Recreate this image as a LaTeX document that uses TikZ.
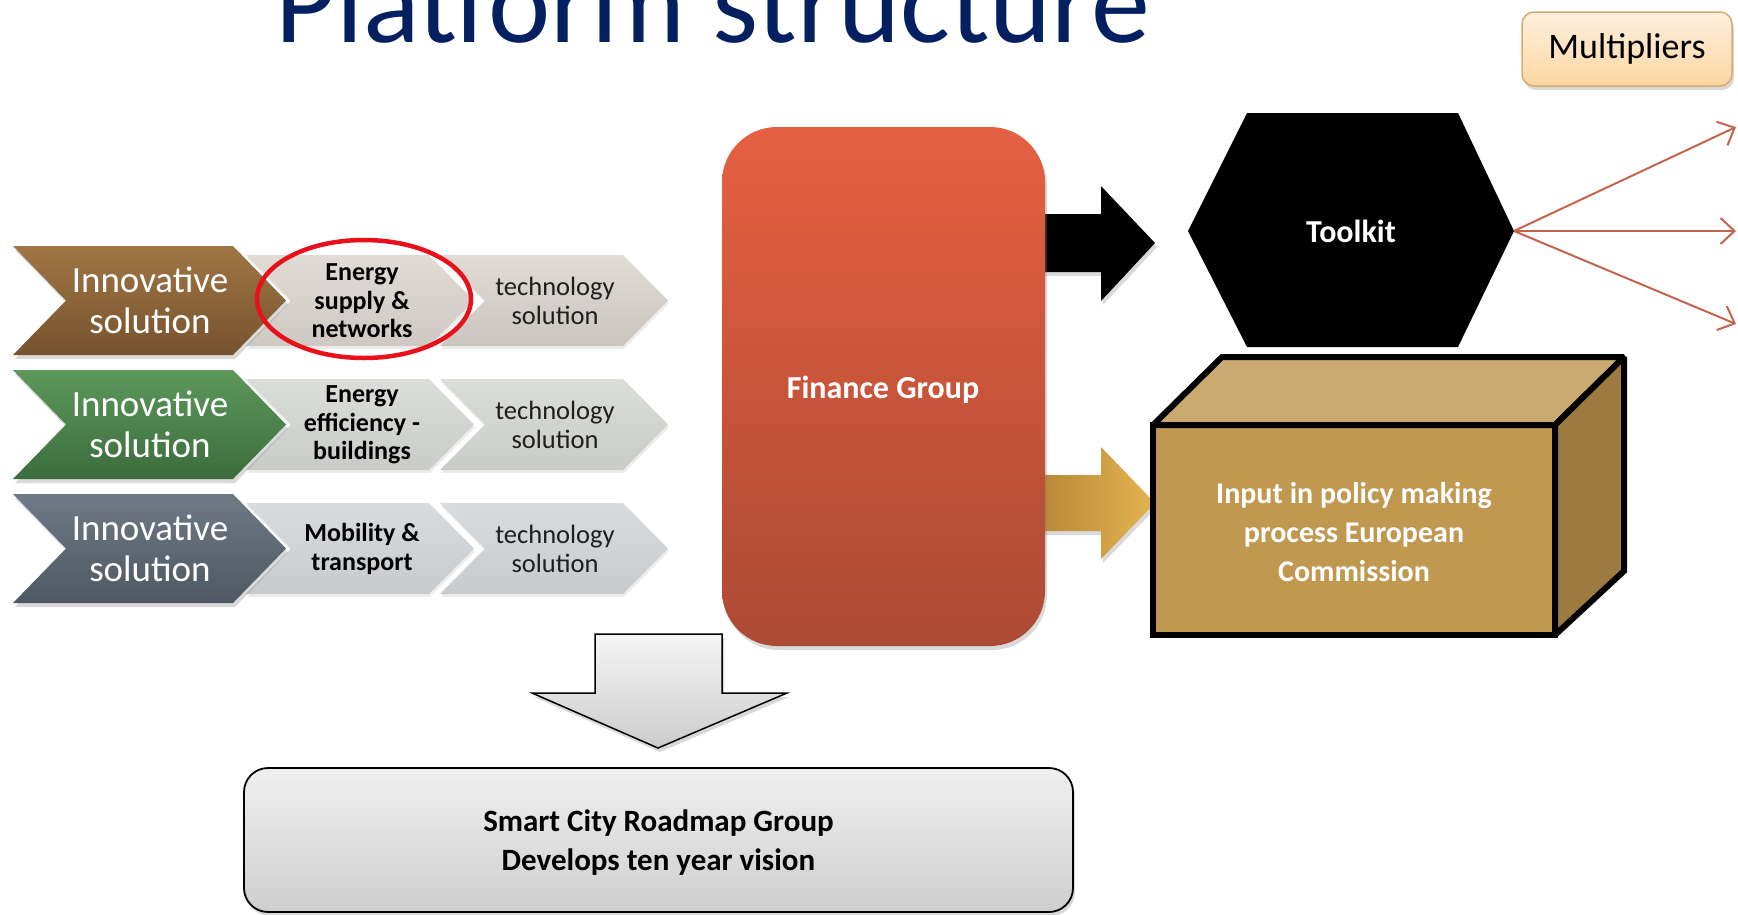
\documentclass[tikz,border=0pt]{standalone}
\usepackage{fontspec}
\setmainfont{Carlito}
\usetikzlibrary{arrows.meta,shadows,shapes.geometric}
\definecolor{titleblue}{RGB}{4,32,96}
\definecolor{brownT}{RGB}{160,118,68}
\definecolor{brownB}{RGB}{118,82,46}
\definecolor{greenT}{RGB}{92,152,90}
\definecolor{greenB}{RGB}{60,108,62}
\definecolor{slateT}{RGB}{112,122,134}
\definecolor{slateB}{RGB}{78,88,98}
\definecolor{lightA}{RGB}{224,219,212}
\definecolor{lightB}{RGB}{218,221,216}
\definecolor{lightC}{RGB}{216,220,222}
\definecolor{finT}{RGB}{229,96,66}
\definecolor{finB}{RGB}{172,74,52}
\definecolor{goldFront}{RGB}{192,152,80}
\definecolor{goldTop}{RGB}{203,170,114}
\definecolor{goldSide}{RGB}{156,122,64}
\definecolor{goldArrL}{RGB}{184,136,56}
\definecolor{goldArrR}{RGB}{228,180,80}
\definecolor{multT}{RGB}{255,240,222}
\definecolor{multB}{RGB}{252,214,162}
\definecolor{multD}{RGB}{214,172,108}
\definecolor{multline}{RGB}{196,100,76}
\definecolor{techtext}{RGB}{30,30,30}
\newcommand{\chevpath}[5]{(#1,#3) -- (#2,#3) -- ({#2+#5},{(#3+#4)/2}) -- (#2,#4) -- (#1,#4) -- ({#1+#5},{(#3+#4)/2}) -- cycle}
\begin{document}
\begin{tikzpicture}[x=1pt,y=-1pt,
  shad/.style={drop shadow={opacity=0.3,shadow xshift=2pt,shadow yshift=-4pt}},
  lshad/.style={drop shadow={opacity=0.15,shadow xshift=1pt,shadow yshift=-3pt}},
  innov/.style={text=white,align=center,font=\fontsize{37}{41}\selectfont},
  midtxt/.style={text=black,align=center,font=\bfseries\fontsize{26}{28.5}\selectfont},
  techtxt/.style={text=techtext,align=center,font=\fontsize{26.5}{29}\selectfont},
  multarrow/.style={draw=multline,line width=2pt,-{Straight Barb[length=14pt,width=26pt]}},
  cube/.style={draw=black,line width=6pt,line join=miter,miter limit=2},
]
\useasboundingbox (0,0) rectangle (1738,914);
\clip (0,0) rectangle (1738,914);

% title
\node[anchor=base west,inner sep=0pt,text=titleblue,font=\fontsize{118}{122}\selectfont] (title) at (275,42) {Platform structure};

% Multipliers
\node[rounded corners=12pt,draw=multD,line width=1.5pt,top color=multT,bottom color=multB,
  minimum width=210pt,minimum height=74pt,shad,font=\fontsize{36}{40}\selectfont] (mult) at (1627,49) {Multipliers};

% chevrons row 1
\path[lshad,top color=lightA,bottom color=lightA!90!black] \chevpath{440}{623}{255}{346}{45};
\path[lshad,top color=lightA,bottom color=lightA!92!black] \chevpath{246}{429}{255}{346}{45};
\path[shad,top color=brownT,bottom color=brownB] \chevpath{13}{233}{246}{355}{53};
% row 2
\path[lshad,top color=lightB,bottom color=lightB!92!black] \chevpath{440}{623}{379}{470}{45};
\path[lshad,top color=lightB,bottom color=lightB!92!black] \chevpath{246}{429}{379}{470}{45};
\path[shad,top color=greenT,bottom color=greenB] \chevpath{13}{233}{370}{479}{53};
% row 3
\path[lshad,top color=lightC,bottom color=lightC!92!black] \chevpath{440}{623}{503}{594}{45};
\path[lshad,top color=lightC,bottom color=lightC!92!black] \chevpath{246}{429}{503}{594}{45};
\path[shad,top color=slateT,bottom color=slateB] \chevpath{13}{233}{494}{603}{53};

\node[innov] (inno1) at (150,300) {Innovative\\solution};
\node[innov] (inno2) at (150,424) {Innovative\\solution};
\node[innov] (inno3) at (150,548) {Innovative\\solution};
\node[midtxt] (energy) at (362,301) {Energy\\supply \&\\networks};
\node[midtxt] (eff) at (362,425) {Energy\\efficiency -\\buildings};
\node[midtxt] (mob) at (362,549) {Mobility \&\\transport};
\node[techtxt] (tech1) at (555,301) {technology\\solution};
\node[techtxt] (tech2) at (555,425) {technology\\solution};
\node[techtxt] (tech3) at (555,549) {technology\\solution};

% red highlight ellipse
\node[ellipse,draw={rgb,255:red,232;green,16;blue,26},line width=4.5pt,minimum width=214pt,minimum height=118pt] (hl) at (364,299) {};

% gray down arrow
\path[shad,draw=black,line width=1.5pt,top color=gray!8,bottom color=gray!40]
  (595,634) -- (722,634) -- (722,693) -- (787,693) -- (658,748) -- (532,693) -- (595,693) -- cycle;

% block arrows from Finance
\path[shad,fill=black] (1040,214) -- (1101,214) -- (1101,186) -- (1155,243) -- (1101,301) -- (1101,272) -- (1040,272) -- cycle;
\path[shad,left color=goldArrL,right color=goldArrR] (1040,475) -- (1101,475) -- (1101,447) -- (1155,503) -- (1101,559) -- (1101,531) -- (1040,531) -- cycle;

% Finance group
\node[rounded corners=55pt,top color=finT,bottom color=finB,minimum width=323pt,minimum height=519pt,shad] (fin) at (883.5,386.5) {};
\node[text=white,font=\bfseries\fontsize{32}{36}\selectfont] (finlabel) at (883,390) {Finance Group};

% Toolkit hexagon
\path[fill=black] (1247,113) -- (1458,113) -- (1514,231) -- (1458,347) -- (1247,347) -- (1188,231) -- cycle;
\node[text=white,font=\bfseries\fontsize{32}{36}\selectfont] (toolkit) at (1351,231) {Toolkit};
\coordinate (tkR) at (1514,231);
\coordinate (m1) at (1736,127);
\coordinate (m2) at (1736,231);
\coordinate (m3) at (1736,324);
\draw[multarrow] (tkR) -- (m1);
\draw[multarrow] (tkR) -- (m2);
\draw[multarrow] (tkR) -- (m3);

% policy cuboid
\path[cube,fill=goldFront] (1153,425) rectangle (1555,635);
\path[cube,fill=goldTop] (1153,425) -- (1222,357) -- (1624,357) -- (1555,425) -- cycle;
\path[cube,fill=goldSide] (1555,425) -- (1624,357) -- (1624,571) -- (1555,635) -- cycle;
\node[text=white,align=center,font=\bfseries\fontsize{30}{39}\selectfont] (policy) at (1354,532) {Input in policy making\\process European\\Commission};

% Smart city box
\node[rounded corners=24pt,draw=black,line width=1.8pt,top color=gray!12,bottom color=gray!38,
  minimum width=829pt,minimum height=144pt,shad,align=center,font=\bfseries\fontsize{31}{39}\selectfont] (smart) at (658.5,840) {\strut Smart City Roadmap Group\\Develops ten year vision};
\end{tikzpicture}
\end{document}
